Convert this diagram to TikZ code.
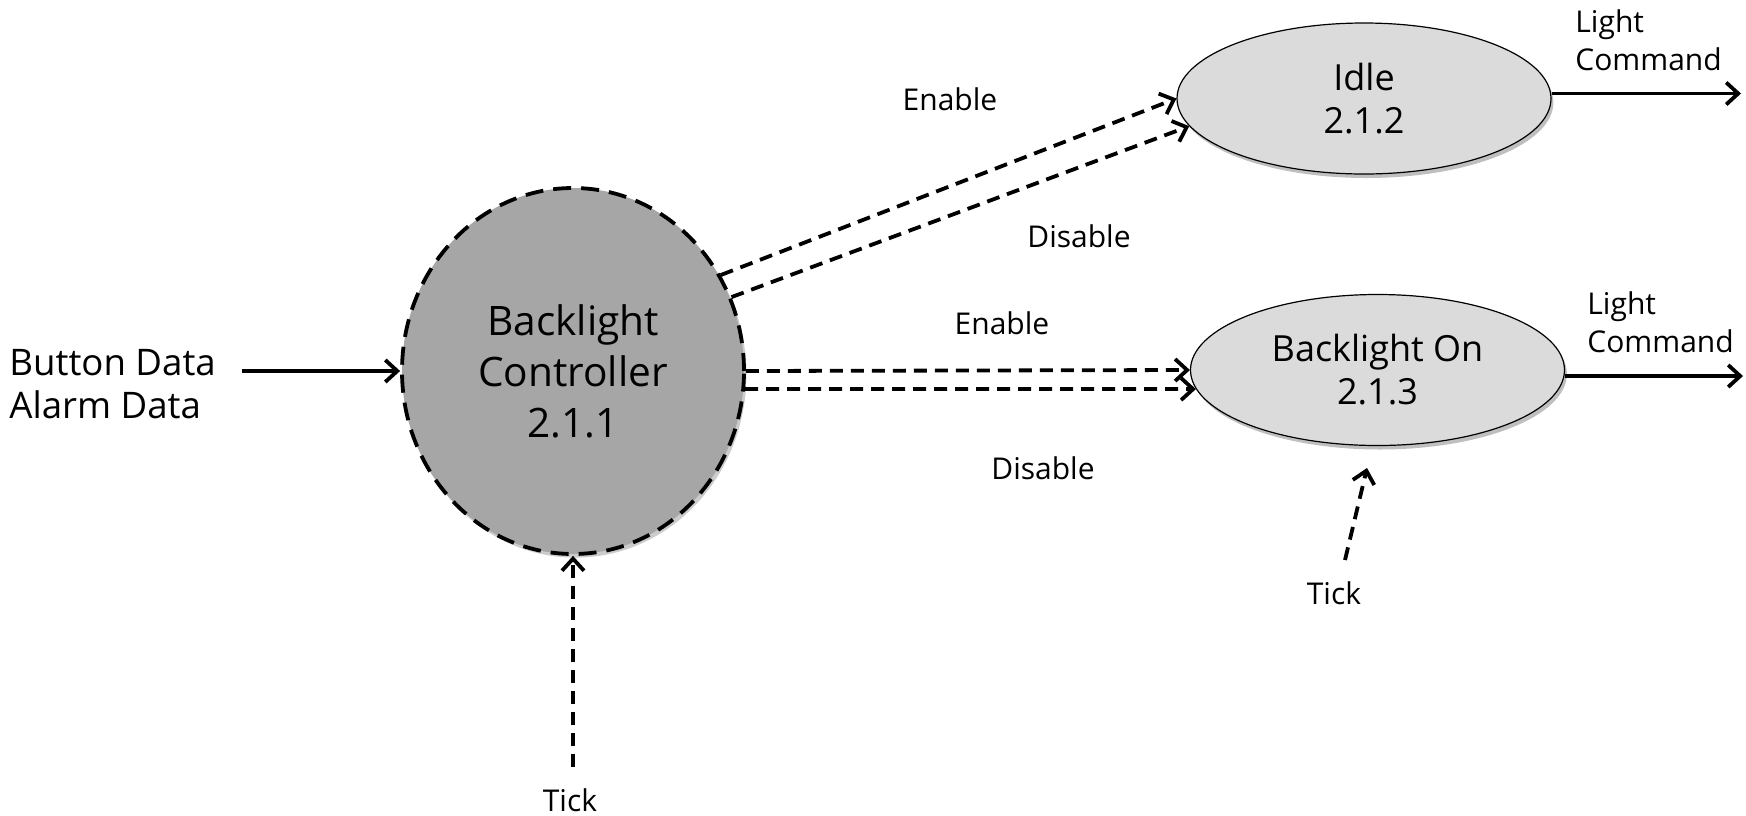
\documentclass[tikz,border=0pt]{standalone}
\usepackage{fontspec}
\setmainfont{Open Sans}
\usetikzlibrary{arrows.meta,shapes.geometric,shadows,calc}
\definecolor{ctrlgray}{HTML}{A6A6A6}
\definecolor{stategray}{HTML}{DBDBDB}
\begin{document}
\begin{tikzpicture}[x=0.5pt,y=-0.5pt,
  ctrlnode/.style={ellipse, draw=black, line width=1.9pt, dash pattern=on 9pt off 5pt,
    fill=ctrlgray, inner sep=0pt, minimum width=171pt, minimum height=183pt, align=center,
    font=\fontsize{20.3}{25.5}\selectfont,
    drop shadow={shadow xshift=1.2pt, shadow yshift=-1.8pt, opacity=0.2, fill=black}},
  statenode/.style={ellipse, draw=black, line width=0.6pt, fill=stategray, inner sep=0pt,
    minimum width=187pt, minimum height=75.5pt, align=center,
    font=\fontsize{18}{21.5}\selectfont,
    drop shadow={shadow xshift=1.2pt, shadow yshift=-2pt, opacity=0.25, fill=black}},
  flow/.style={line width=1.9pt, -{Straight Barb[length=6pt,width=11pt]}},
  ctl/.style={flow, dash pattern=on 6.5pt off 4pt},
  lbl/.style={font=\fontsize{15}{19}\selectfont, inner sep=0pt},
  multi/.style={lbl, anchor=west, align=left}
]
\useasboundingbox (0,0) rectangle (1746,815);

\node[ctrlnode] (ctrl) at (573,371) {Backlight\\Controller\\2.1.1};
\node[statenode] (idle) at (1364,98.5) {Idle\\2.1.2};
\node[statenode] (bon) at (1377.5,370) {Backlight On\\2.1.3};

\node[lbl] (en1) at (950,99) {Enable};
\node[lbl] (dis1) at (1079,236) {Disable};
\node[lbl] (en2) at (1002,323) {Enable};
\node[lbl] (dis2) at (1043,468) {Disable};
\node[lbl] (tick2) at (1334,593) {Tick};
\node[lbl] (tick1) at (570,800) {Tick};
\node[multi] (lc1) at (1575,40) {Light\\Command};
\node[multi] (lc2) at (1587,322) {Light\\Command};
\node[anchor=west, align=left, font=\fontsize{18.3}{21.5}\selectfont, inner sep=0pt] (inputs) at (9,384) {Button Data\\Alarm Data};

\coordinate (inStart) at (242,371);
\draw[flow] (inStart) -- (ctrl.west);
\draw[ctl] (ctrl.33) -- (idle.180);
\draw[ctl] (ctrl.25) -- (idle.189);
\draw[ctl] (ctrl.0) -- (bon.180);
\draw[ctl] (ctrl.-6) -- (bon.186);

\coordinate (o1) at (1741,93.5);
\draw[flow] (idle.east |- o1) -- (o1);
\coordinate (o2) at (1743,376);
\draw[flow] (bon.east |- o2) -- (o2);

\coordinate (t1s) at (573,767);
\draw[ctl] (t1s) -- (ctrl.south);
\coordinate (t2s) at (1345,560);
\coordinate (t2e) at (1367,468);
\draw[ctl] (t2s) -- (t2e);
\end{tikzpicture}
\end{document}
